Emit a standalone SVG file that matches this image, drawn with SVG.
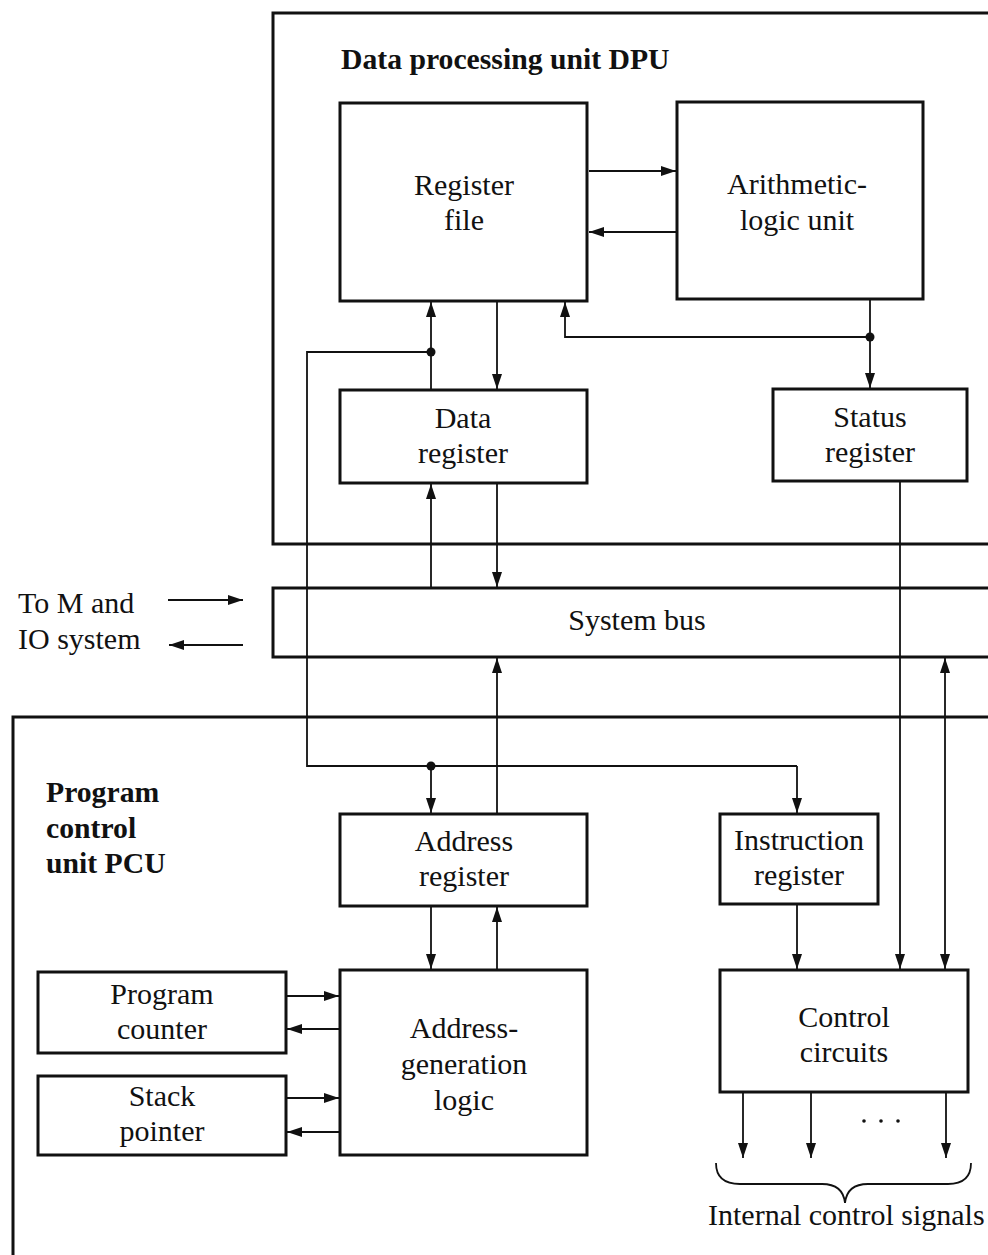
<svg xmlns="http://www.w3.org/2000/svg" width="988" height="1255" viewBox="0 0 988 1255">
  <style>
    .frame { fill: none; stroke: #111; stroke-width: 3; }
    .box { fill: #fff; stroke: #111; stroke-width: 3; }
    .wire { fill: none; stroke: #111; stroke-width: 1.8; }
    .arr { fill: none; stroke: #111; stroke-width: 1.8; marker-end: url(#ah); }
    .lbl { font-family: "Liberation Serif", "Times New Roman", serif; font-size: 30px; fill: #111; text-anchor: middle; }
    .ttl { font-family: "Liberation Serif", "Times New Roman", serif; font-size: 29.7px; font-weight: bold; fill: #111; }
    .side { font-family: "Liberation Serif", "Times New Roman", serif; font-size: 30px; fill: #111; }
  </style>
  <defs>
    <marker id="ah" markerWidth="15" markerHeight="10" refX="15" refY="5" orient="auto" markerUnits="userSpaceOnUse">
      <path d="M0,0 L15,5 L0,10 z" fill="#111"/>
    </marker>
    <marker id="ahs" markerWidth="15" markerHeight="10" refX="0" refY="5" orient="auto" markerUnits="userSpaceOnUse">
      <path d="M15,0 L0,5 L15,10 z" fill="#111"/>
    </marker>
  </defs>
  <rect width="988" height="1255" fill="#fff"/>

  <!-- unit frames -->
  <g id="dpu">
    <rect class="frame" x="273" y="13" width="740" height="531"/>
    <text class="ttl" x="341" y="69">Data processing unit DPU</text>
  </g>
  <g id="pcu">
    <rect class="frame" x="13" y="717" width="1000" height="560"/>
    <text class="ttl" x="46" y="802">Program</text>
    <text class="ttl" x="46" y="838">control</text>
    <text class="ttl" x="46" y="873">unit PCU</text>
  </g>

  <!-- system bus -->
  <g id="system-bus">
    <rect class="box" x="273" y="588" width="740" height="69"/>
    <text class="lbl" x="637" y="630">System bus</text>
  </g>
  <g id="external">
    <text class="side" x="18" y="613">To M and</text>
    <text class="side" x="18" y="649">IO system</text>
  </g>

  <!-- connectors -->
  <g id="connectors">
    <!-- register file <-> ALU -->
    <line class="arr" x1="589" y1="171" x2="676" y2="171"/>
    <line class="arr" x1="676" y1="232" x2="589" y2="232"/>
    <!-- register file -> data register -->
    <line class="arr" x1="497" y1="302" x2="497" y2="389"/>
    <!-- data register -> register file -->
    <line class="arr" x1="431" y1="389" x2="431" y2="302"/>
    <!-- ALU -> status register, and feedback to register file -->
    <line class="arr" x1="870" y1="300" x2="870" y2="388"/>
    <polyline class="arr" points="870,337 565,337 565,302"/>
    <circle cx="870" cy="337" r="4.5" fill="#111"/>
    <!-- shared path to address register and instruction register (crosses the bus) -->
    <polyline class="wire" points="431,352 307,352 307,766 797,766"/>
    <circle cx="431" cy="352" r="4.5" fill="#111"/>
    <line class="arr" x1="797" y1="766" x2="797" y2="813"/>
    <line class="arr" x1="431" y1="766" x2="431" y2="813"/>
    <circle cx="431" cy="766" r="4.5" fill="#111"/>
    <!-- data register <-> system bus -->
    <line class="arr" x1="431" y1="587" x2="431" y2="484"/>
    <line class="arr" x1="497" y1="484" x2="497" y2="587"/>
    <!-- external M and IO -->
    <line class="arr" x1="168" y1="600" x2="243" y2="600"/>
    <line class="arr" x1="243" y1="645" x2="169" y2="645"/>
    <!-- address register -> system bus -->
    <line class="arr" x1="497" y1="813" x2="497" y2="658"/>
    <!-- address register <-> address-generation logic -->
    <line class="arr" x1="431" y1="907" x2="431" y2="969"/>
    <line class="arr" x1="497" y1="969" x2="497" y2="907"/>
    <!-- program counter / stack pointer <-> address-generation logic -->
    <line class="arr" x1="287" y1="996" x2="339" y2="996"/>
    <line class="arr" x1="339" y1="1029" x2="287" y2="1029"/>
    <line class="arr" x1="287" y1="1098" x2="339" y2="1098"/>
    <line class="arr" x1="339" y1="1132" x2="287" y2="1132"/>
    <!-- instruction register -> control circuits -->
    <line class="arr" x1="797" y1="905" x2="797" y2="969"/>
    <!-- status register -> control circuits (crosses the bus) -->
    <line class="arr" x1="900" y1="482" x2="900" y2="969"/>
    <!-- system bus <-> control circuits -->
    <line class="wire" x1="945" y1="658" x2="945" y2="969" marker-start="url(#ahs)" marker-end="url(#ah)"/>
    <!-- internal control signal outputs -->
    <line class="arr" x1="743" y1="1093" x2="743" y2="1158"/>
    <line class="arr" x1="811" y1="1093" x2="811" y2="1158"/>
    <line class="arr" x1="946" y1="1093" x2="946" y2="1158"/>
    <circle cx="864" cy="1121" r="1.8" fill="#111"/>
    <circle cx="881" cy="1121" r="1.8" fill="#111"/>
    <circle cx="898" cy="1121" r="1.8" fill="#111"/>
    <path class="wire" d="M716,1163 Q716,1184 740,1184 L822,1184 Q843,1184 845,1203 Q847,1184 868,1184 L948,1184 Q971,1184 971,1163"/>
  </g>

  <!-- DPU blocks -->
  <g id="register-file">
    <rect class="box" x="340" y="103" width="247" height="198"/>
    <text class="lbl" x="464" y="195">Register</text>
    <text class="lbl" x="464" y="230">file</text>
  </g>
  <g id="alu">
    <rect class="box" x="677" y="102" width="246" height="197"/>
    <text class="lbl" x="797" y="194">Arithmetic-</text>
    <text class="lbl" x="797" y="230">logic unit</text>
  </g>
  <g id="data-register">
    <rect class="box" x="340" y="390" width="247" height="93"/>
    <text class="lbl" x="463" y="428">Data</text>
    <text class="lbl" x="463" y="463">register</text>
  </g>
  <g id="status-register">
    <rect class="box" x="773" y="389" width="194" height="92"/>
    <text class="lbl" x="870" y="427">Status</text>
    <text class="lbl" x="870" y="462">register</text>
  </g>

  <!-- PCU blocks -->
  <g id="address-register">
    <rect class="box" x="340" y="814" width="247" height="92"/>
    <text class="lbl" x="464" y="851">Address</text>
    <text class="lbl" x="464" y="886">register</text>
  </g>
  <g id="instruction-register">
    <rect class="box" x="720" y="814" width="158" height="90"/>
    <text class="lbl" x="799" y="850">Instruction</text>
    <text class="lbl" x="799" y="885">register</text>
  </g>
  <g id="address-generation-logic">
    <rect class="box" x="340" y="970" width="247" height="185"/>
    <text class="lbl" x="464" y="1038">Address-</text>
    <text class="lbl" x="464" y="1074">generation</text>
    <text class="lbl" x="464" y="1110">logic</text>
  </g>
  <g id="program-counter">
    <rect class="box" x="38" y="972" width="248" height="81"/>
    <text class="lbl" x="162" y="1004">Program</text>
    <text class="lbl" x="162" y="1039">counter</text>
  </g>
  <g id="stack-pointer">
    <rect class="box" x="38" y="1076" width="248" height="79"/>
    <text class="lbl" x="162" y="1106">Stack</text>
    <text class="lbl" x="162" y="1141">pointer</text>
  </g>
  <g id="control-circuits">
    <rect class="box" x="720" y="970" width="248" height="122"/>
    <text class="lbl" x="844" y="1027">Control</text>
    <text class="lbl" x="844" y="1062">circuits</text>
  </g>
  <g id="internal-signals">
    <text class="side" x="708" y="1225">Internal control signals</text>
  </g>
</svg>
